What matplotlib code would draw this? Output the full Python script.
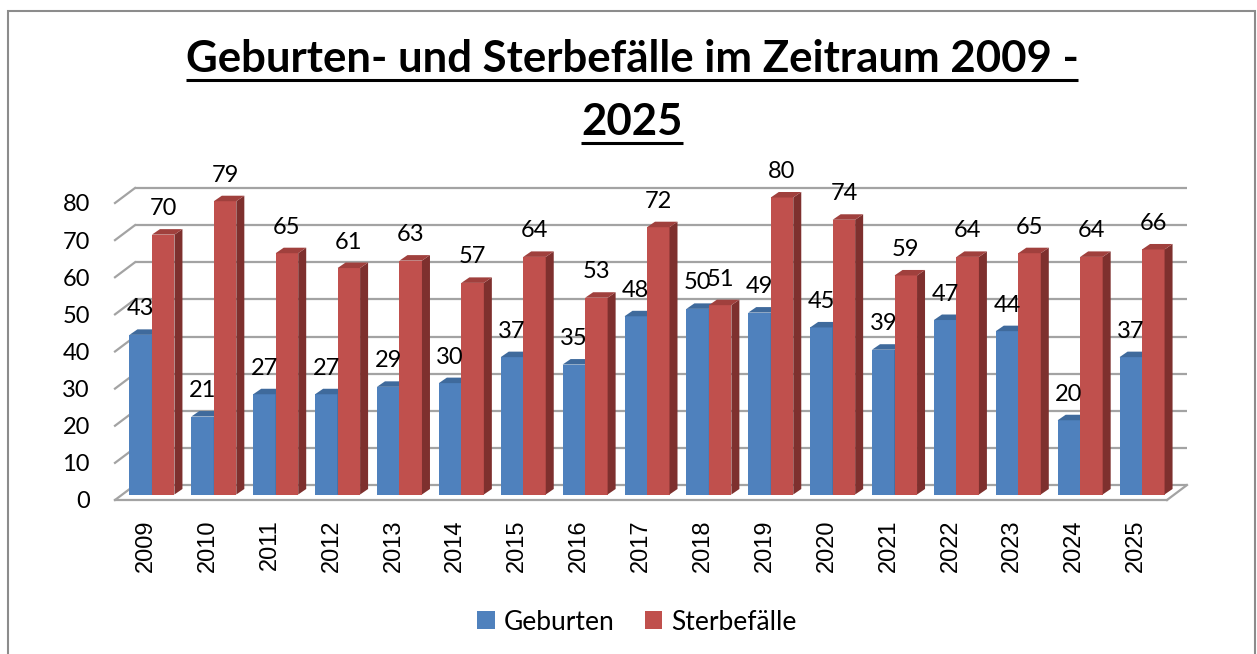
import matplotlib
matplotlib.use("Agg")
import matplotlib.pyplot as plt
from matplotlib.patches import Polygon, Rectangle
from matplotlib.lines import Line2D

# Daten
jahre = ["2009", "2010", "2011", "2012", "2013", "2014", "2015", "2016", "2017",
         "2018", "2019", "2020", "2021", "2022", "2023", "2024", "2025"]
geburten = [43, 21, 27, 27, 29, 30, 37, 35, 48, 50, 49, 45, 39, 47, 44, 20, 37]
sterbefaelle = [70, 79, 65, 61, 63, 57, 64, 53, 72, 51, 80, 74, 59, 64, 65, 64, 66]
y_ticks = [0, 10, 20, 30, 40, 50, 60, 70, 80]

titel_1 = "Geburten- und Sterbefälle im Zeitraum 2009 -"
titel_2 = "2025"

W, H, DPI = 1257, 654, 100
fig = plt.figure(figsize=(W / DPI, H / DPI), dpi=DPI)
fig.patch.set_facecolor("white")

# Vorderebene des Diagramms (Pixel: links 115, rechts 1167, 0 bei 500, 80 bei 203)
ax = fig.add_axes([115 / W, 1 - 500 / H, (1167 - 115) / W, (500 - 203) / H])
ax.set_xlim(-0.5, len(jahre) - 0.5)
ax.set_ylim(0, 80)
for s in ax.spines.values():
    s.set_visible(False)
ax.set_facecolor("none")

# Pixel pro Dateneinheit
p0 = ax.transData.transform((0, 0))
p1 = ax.transData.transform((1, 1))
px_x = p1[0] - p0[0]
px_y = p1[1] - p0[1]

# 3D-Versatz in Dateneinheiten
back_dx, back_dy = 20 / px_x, 15 / px_y     # Rückwand
bar_dx, bar_dy = 6 / px_x, 5.5 / px_y       # Vorderseite der Säulen
dep_dx, dep_dy = 8 / px_x, 5.5 / px_y       # Tiefe der Säulen
breite = 22.5 / px_x

grid_col = "#A3A3A3"
x_l, x_r = -0.5, len(jahre) - 0.5

# Gitternetz an der Rückwand + Diagonalen links
for v in y_ticks:
    ax.plot([x_l + back_dx, x_r + back_dx], [v + back_dy, v + back_dy],
            color=grid_col, lw=1.6, zorder=1, clip_on=False, solid_capstyle="butt")
    ax.plot([x_l, x_l + back_dx], [v, v + back_dy],
            color=grid_col, lw=1.6, zorder=1, clip_on=False)
# Boden
ax.plot([x_l, x_r], [0, 0], color=grid_col, lw=1.6, zorder=1, clip_on=False)
ax.plot([x_r, x_r + back_dx], [0, back_dy], color=grid_col, lw=1.6, zorder=1, clip_on=False)

serien = [
    (geburten, -breite, "#4F81BD", "#385D8A", "#3F6A9C", "Geburten"),
    (sterbefaelle, 0.0, "#C0504D", "#7E302E", "#A0403D", "Sterbefälle"),
]

for werte, versatz, c_front, c_side, c_top, name in serien:
    xs = [i + versatz + bar_dx for i in range(len(jahre))]
    ax.bar(xs, werte, width=breite, bottom=bar_dy, align="edge", color=c_front,
           zorder=3, clip_on=False, label=name)
    for L, v in zip(xs, werte):
        R = L + breite
        b = bar_dy
        seite = Polygon([(R, b), (R + dep_dx, b + dep_dy), (R + dep_dx, b + v + dep_dy), (R, b + v)],
                        closed=True, facecolor=c_side, edgecolor="none", zorder=3, clip_on=False)
        oben = Polygon([(L, b + v), (R, b + v), (R + dep_dx, b + v + dep_dy), (L + dep_dx, b + v + dep_dy)],
                       closed=True, facecolor=c_top, edgecolor="none", zorder=3, clip_on=False)
        ax.add_patch(seite)
        ax.add_patch(oben)
        ax.annotate(str(v), xy=(L + breite / 2, v), xytext=(0, 31.5 * 0.72),
                    textcoords="offset points", ha="center", va="center",
                    fontsize=17, family="Lato", color="black", zorder=5,
                    annotation_clip=False)

# Achsenbeschriftungen
ax.set_yticks(y_ticks)
ax.set_yticklabels([str(t) for t in y_ticks], fontsize=17, family="Lato")
ax.set_xticks(range(len(jahre)))
ax.set_xticklabels(jahre, rotation=90, fontsize=17, family="Liberation Sans")
ax.tick_params(axis="y", length=0, pad=18)
ax.tick_params(axis="x", length=0, pad=14)

# Legende
leg = fig.legend(loc="center", bbox_to_anchor=(637 / W, 1 - 622 / H), ncol=2,
                 frameon=False, prop={"family": "Lato", "size": 19},
                 handlelength=0.66, handleheight=0.66, handletextpad=0.35,
                 columnspacing=1.15)

# Titel
t1 = fig.text(632 / W, 1 - 72 / H, titel_1, ha="center", va="baseline",
              fontsize=31.5, fontweight="bold", family="Lato")
t2 = fig.text(632 / W, 1 - 135 / H, titel_2, ha="center", va="baseline",
              fontsize=31.5, fontweight="bold", family="Lato")

# Rahmen
fig.add_artist(Rectangle((8 / W, -0.05), (1255 - 8) / W, 1.05 - 10.5 / H,
                         transform=fig.transFigure, fill=False,
                         edgecolor="#8C8C8C", lw=1.5))

# Unterstreichung des Titels
fig.canvas.draw()
r = fig.canvas.get_renderer()
for t, base in [(t1, 72), (t2, 135)]:
    bb = t.get_window_extent(r)
    y = 1 - (base + 8) / H
    fig.add_artist(Line2D([bb.x0 / W, bb.x1 / W], [y, y], transform=fig.transFigure,
                          color="black", lw=2.2, solid_capstyle="butt"))

fig.savefig("out.png", dpi=DPI)
